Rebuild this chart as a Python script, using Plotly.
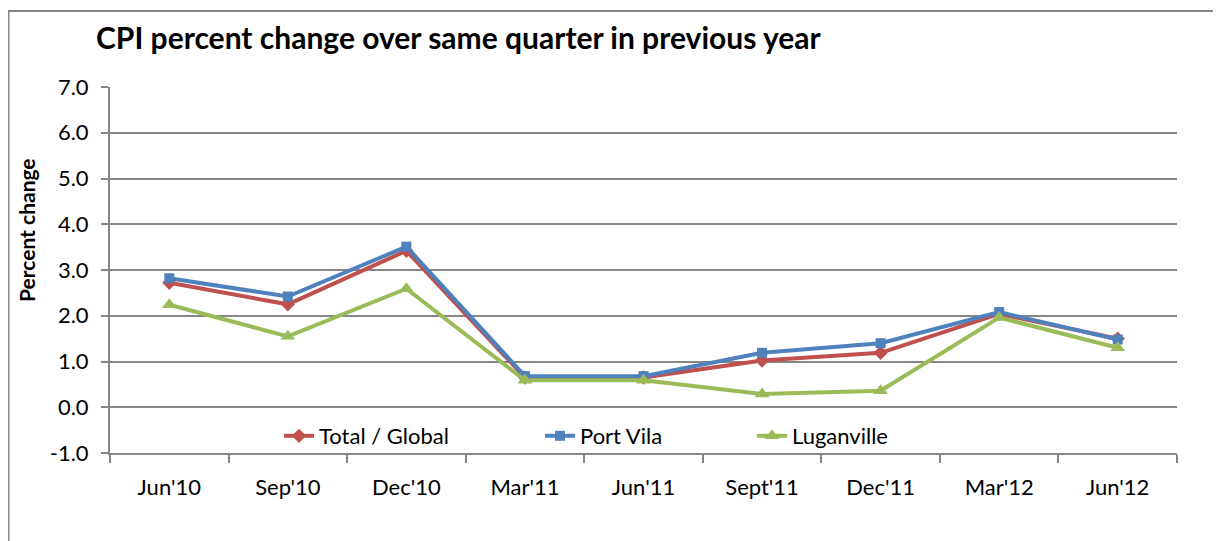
import plotly.graph_objects as go

quarters = ["Jun'10", "Sep'10", "Dec'10", "Mar'11", "Jun'11", "Sept'11", "Dec'11", "Mar'12", "Jun'12"]
total_global = [2.72, 2.25, 3.42, 0.65, 0.65, 1.02, 1.19, 2.04, 1.50]
port_vila = [2.82, 2.42, 3.51, 0.68, 0.68, 1.19, 1.40, 2.08, 1.48]
luganville = [2.24, 1.55, 2.59, 0.59, 0.59, 0.29, 0.36, 1.96, 1.30]
y_ticks = [-1, 0, 1, 2, 3, 4, 5, 6, 7]
y_tick_labels = ["-1.0", "0.0", "1.0", "2.0", "3.0", "4.0", "5.0", "6.0", "7.0"]

FONT = "Lato"
OFF = 8  # page body margin
W, H = 1221 - OFF, 541 - OFF
# plot area in screen pixels
SL, SR, ST, SB = 110, 1177, 87, 453
L, R, T, B = SL - OFF, SR - OFF, ST - OFF, SB - OFF

def px_x(sx):
    return (sx - OFF - L) / (R - L)

def px_y(sy):
    return (B - (sy - OFF)) / (B - T)

fig = go.Figure()
fig.add_trace(go.Scatter(
    x=quarters, y=total_global, name="Total / Global", mode="lines+markers",
    line=dict(color="#C0504D", width=4),
    marker=dict(symbol="diamond", size=11, color="#C0504D"),
    legend="legend", showlegend=True))
fig.add_trace(go.Scatter(
    x=quarters, y=port_vila, name="Port Vila", mode="lines+markers",
    line=dict(color="#4F81BD", width=4),
    marker=dict(symbol="square", size=10, color="#4F81BD"),
    legend="legend2", showlegend=True))
fig.add_trace(go.Scatter(
    x=quarters, y=luganville, name="Luganville", mode="lines+markers",
    line=dict(color="#9BBB59", width=4),
    marker=dict(symbol="triangle-up", size=13, color="#9BBB59"),
    legend="legend3", showlegend=True))

leg_common = dict(orientation="h", yanchor="middle", xanchor="left", visible=True,
                  bgcolor="rgba(0,0,0,0)", font=dict(family=FONT, size=22, color="#000"),
                  y=px_y(436))
fig.update_layout(
    width=W, height=H, showlegend=True,
    margin=dict(l=L, r=W - R, t=T, b=H - B, autoexpand=False),
    paper_bgcolor="white", plot_bgcolor="white",
    font=dict(family=FONT, color="#000"),
    legend=dict(**leg_common, x=px_x(271 + OFF)),
    legend2=dict(**leg_common, x=px_x(532 + OFF)),
    legend3=dict(**leg_common, x=px_x(744 + OFF)),
    xaxis=dict(
        type="category", tickson="boundaries", showgrid=False,
        showline=True, linecolor="#868686", linewidth=2,
        ticks="outside", ticklen=8, tickcolor="#868686", tickwidth=2,
        tickfont=dict(family=FONT, size=22, color="#000"),
        ticklabelstandoff=14,
        range=[-0.5, 8.5],
    ),
    yaxis=dict(
        range=[-1, 7], tickmode="array", tickvals=y_ticks, ticktext=y_tick_labels,
        showgrid=True, gridcolor="#868686", gridwidth=2, zeroline=False,
        showline=True, linecolor="#868686", linewidth=2,
        ticks="outside", ticklen=7, tickcolor="#868686", tickwidth=2,
        tickfont=dict(family=FONT, size=22, color="#000"),
        ticklabelstandoff=8,
    ),
    annotations=[
        dict(text="<b>CPI percent change over same quarter in previous year</b>",
             xref="paper", yref="paper", x=px_x(94), y=px_y(37),
             xanchor="left", yanchor="middle", showarrow=False,
             font=dict(family=FONT, size=30, color="#000")),
        dict(text="<b>Percent change</b>", textangle=-90,
             xref="paper", yref="paper", x=px_x(26), y=px_y(230),
             xanchor="center", yanchor="middle", showarrow=False,
             font=dict(family=FONT, size=21, color="#000")),
    ],
    shapes=[
        dict(type="line", xref="paper", yref="paper",
             x0=px_x(8), x1=px_x(1240), y0=px_y(11), y1=px_y(11),
             line=dict(color="#868686", width=2)),
        dict(type="line", xref="paper", yref="paper",
             x0=px_x(8.5), x1=px_x(8.5), y0=px_y(11), y1=px_y(560),
             line=dict(color="#868686", width=2)),
    ],
)

fig.write_html("out.html")
